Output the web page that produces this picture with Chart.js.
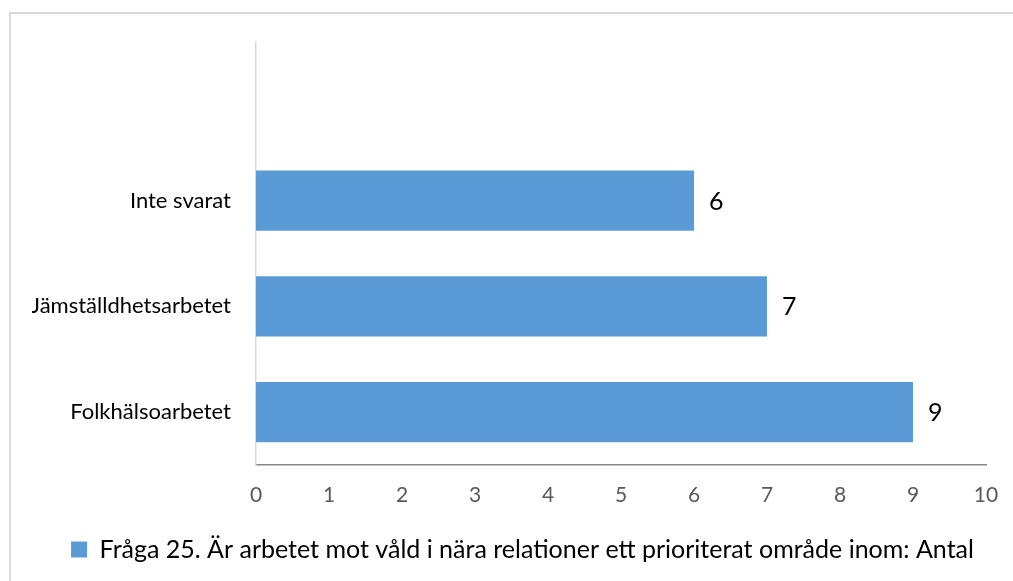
<!DOCTYPE html>
<html>
<head>
<meta charset="utf-8">
<script src="https://cdn.jsdelivr.net/npm/chart.js@4"></script>
<style>
  html, body { margin: 0; padding: 0; background: #fff; overflow: hidden; }
  #wrap { position: relative; width: 1013px; height: 581px; }
  #frame { position: absolute; left: 9px; top: 12px; width: 1100px; height: 700px;
           border: 2px solid #d9d9d9; box-sizing: border-box; pointer-events: none; }
</style>
</head>
<body>
<div id="wrap">
  <div id="frame"></div>
  <canvas id="myChart" width="1013" height="581"></canvas>
</div>
<script>
const ctx = document.getElementById('myChart')

// Excel order: first category at the bottom
const kategorier = ['Folkhälsoarbetet', 'Jämställdhetsarbetet', 'Inte svarat', '']
const antal = [9, 7, 6, null]
const serieNamn = 'Fråga 25. Är arbetet mot våld i nära relationer ett prioriterat område inom: Antal'
const xTicks = [0, 1, 2, 3, 4, 5, 6, 7, 8, 9, 10]

const barColor = '#5B9BD5'

// draws the value next to each bar
const valueLabels = {
  id: 'valueLabels',
  afterDatasetsDraw(chart) {
    const c = chart.ctx
    const meta = chart.getDatasetMeta(0)
    c.save()
    c.font = '25px Lato'
    c.fillStyle = '#000'
    c.textAlign = 'left'
    c.textBaseline = 'middle'
    meta.data.forEach((bar, i) => {
      const v = chart.data.datasets[0].data[i]
      if (v === null || v === undefined) return
      c.fillText(String(v), bar.x + 15, bar.y + 1)
    })
    c.restore()
  }
}

new Chart(ctx, {
  type: 'bar',
  data: {
    labels: kategorier,
    datasets: [
      {
        label: serieNamn,
        data: antal,
        backgroundColor: barColor,
        borderWidth: 0,
        categoryPercentage: 1,
        barPercentage: 0.571,
      },
    ],
  },
  options: {
    indexAxis: 'y',
    responsive: false,
    animation: false,
    layout: { padding: { top: 42, left: 32, right: 0, bottom: 9 } },
    scales: {
      x: {
        min: 0,
        max: 10,
        afterBuildTicks: (scale) => { scale.ticks = xTicks.map((v) => ({ value: v })) },
        afterFit: (scale) => { scale.paddingRight = 27; scale.height = 64 },
        grid: { display: false, drawTicks: false },
        border: { display: true, color: '#868686', width: 1.5 },
        ticks: { padding: 18, color: '#595959', font: { family: 'Lato', size: 21 } },
      },
      y: {
        reverse: true,
        afterFit: (scale) => { scale.width = 224 },
        grid: { display: false, drawTicks: false },
        border: { display: true, color: '#d9d9d9', width: 1.5 },
        ticks: { padding: 25, color: '#000', font: { family: 'Lato', size: 22 } },
      },
    },
    plugins: {
      legend: {
        position: 'bottom',
        labels: {
          boxWidth: 16,
          boxHeight: 16,
          padding: 8,
          color: '#000',
          font: { family: 'Lato', size: 25 },
        },
      },
      tooltip: { enabled: false },
    },
  },
  plugins: [valueLabels],
})
</script>
</body>
</html>
